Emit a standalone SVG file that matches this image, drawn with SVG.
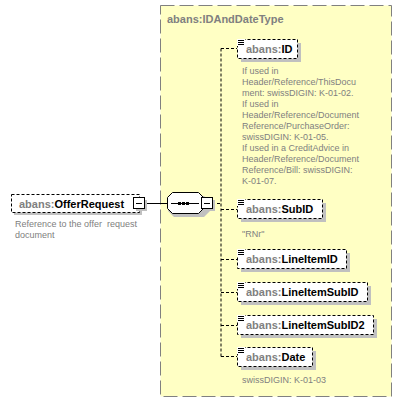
<svg xmlns="http://www.w3.org/2000/svg" width="402" height="402" viewBox="0 0 402 402">
<style>
.lbl{font-family:"Liberation Sans",Arial,sans-serif;font-size:11px;font-weight:bold;fill:#000}
.ns{fill:#808080}
.desc{font-family:"Liberation Sans",Arial,sans-serif;font-size:9px;fill:#808080}
.box{fill:#fff;stroke:#000;stroke-width:1;stroke-dasharray:3,2}
.shadow{fill:#c0c0c0}
.conn{fill:none;stroke:#000;stroke-width:1}
.dash{stroke-dasharray:3,2}
.ico{stroke:#000;stroke-width:1}
</style>
<defs>
<g id="icon">
<rect x="0" y="0" width="8" height="7" fill="#fff"/>
<path class="ico" d="M1,1.5h6M1,3.5h6M1,5.5h6"/>
</g>
</defs>
<g id="complexType">
<rect x="160.5" y="5.5" width="231" height="391" fill="#ffffc4" stroke="#808080" stroke-width="1" stroke-dasharray="14,5"/>
<text x="167" y="23" class="lbl ns">abans:IDAndDateType</text>
</g>
<g id="connectors">
<path class="conn" d="M146,203.5H167"/>
<path class="conn dash" d="M212,203.5H221M221,48.5V356.5M221,48.5H237M221,209.5H237M221,259.5H237M221,292.5H237M221,325.5H237M221,356.5H237"/>
</g>
<g id="OfferRequest">
<rect class="shadow" x="14" y="197" width="128" height="18"/>
<rect class="box" x="11.5" y="194.5" width="128" height="18"/>
<text x="19" y="207.5" class="lbl"><tspan class="ns">abans:</tspan>OfferRequest</text>
<rect class="shadow" x="136" y="200" width="11" height="11"/>
<rect x="133.5" y="197.5" width="11" height="11" fill="#fff" stroke="#000"/>
<path class="ico" d="M136,203.5h6"/>
<text class="desc" xml:space="preserve"><tspan x="15" y="227">Reference to the offer  request</tspan><tspan x="15" y="238">document</tspan></text>
</g>
<g id="sequence">
<path class="shadow" d="M174,196H204L210,202V211L204,217H174L168,211V202Z"/>
<path d="M172.5,192.5H198.5L203.5,197.5V208.5L198.5,213.5H172.5L167.5,208.5V197.5Z" fill="#fff" stroke="#000"/>
<path class="ico" d="M171,203.5H199"/>
<rect x="178" y="202" width="3" height="3" fill="#000"/>
<rect x="182" y="202" width="3" height="3" fill="#000"/>
<rect x="186" y="202" width="3" height="3" fill="#000"/>
<rect class="shadow" x="204" y="200" width="11" height="11"/>
<rect x="201.5" y="197.5" width="11" height="11" fill="#fff" stroke="#000"/>
<path class="ico" d="M204,203.5h6"/>
</g>
<g id="ID">
<rect class="shadow" x="241" y="43" width="60" height="19"/>
<rect class="box" x="237.5" y="39.5" width="60" height="19"/>
<use href="#icon" x="237" y="39"/>
<text x="246" y="52.5" class="lbl"><tspan class="ns">abans:</tspan>ID</text>
<text class="desc"><tspan x="242" y="74">If used in</tspan><tspan x="242" y="85">Header/Reference/ThisDocu</tspan><tspan x="242" y="96">ment: swissDIGIN: K-01-02.</tspan><tspan x="242" y="107">If used in</tspan><tspan x="242" y="118">Header/Reference/Document</tspan><tspan x="242" y="129">Reference/PurchaseOrder:</tspan><tspan x="242" y="140">swissDIGIN: K-01-05.</tspan><tspan x="242" y="151">If used in a CreditAdvice in</tspan><tspan x="242" y="162">Header/Reference/Document</tspan><tspan x="242" y="173">Reference/Bill: swissDIGIN:</tspan><tspan x="242" y="184">K-01-07.</tspan></text>
</g>
<g id="SubID">
<rect class="shadow" x="241" y="203" width="85" height="19"/>
<rect class="box" x="237.5" y="199.5" width="85" height="19"/>
<use href="#icon" x="237" y="199"/>
<text x="246" y="213" class="lbl"><tspan class="ns">abans:</tspan>SubID</text>
<text x="242" y="236.5" class="desc">"RNr"</text>
</g>
<g id="LineItemID">
<rect class="shadow" x="241" y="253" width="109" height="19"/>
<rect class="box" x="237.5" y="249.5" width="109" height="19"/>
<use href="#icon" x="237" y="249"/>
<text x="246" y="263" class="lbl"><tspan class="ns">abans:</tspan>LineItemID</text>
</g>
<g id="LineItemSubID">
<rect class="shadow" x="241" y="286" width="130" height="19"/>
<rect class="box" x="237.5" y="282.5" width="130" height="19"/>
<use href="#icon" x="237" y="282"/>
<text x="246" y="296" class="lbl"><tspan class="ns">abans:</tspan>LineItemSubID</text>
</g>
<g id="LineItemSubID2">
<rect class="shadow" x="241" y="319" width="136" height="19"/>
<rect class="box" x="237.5" y="315.5" width="136" height="19"/>
<use href="#icon" x="237" y="315"/>
<text x="246" y="329" class="lbl"><tspan class="ns">abans:</tspan>LineItemSubID2</text>
</g>
<g id="Date">
<rect class="shadow" x="241" y="351" width="75" height="19"/>
<rect class="box" x="237.5" y="347.5" width="75" height="19"/>
<use href="#icon" x="237" y="347"/>
<text x="246" y="361" class="lbl"><tspan class="ns">abans:</tspan>Date</text>
<text x="242" y="383" class="desc">swissDIGIN: K-01-03</text>
</g>
</svg>
